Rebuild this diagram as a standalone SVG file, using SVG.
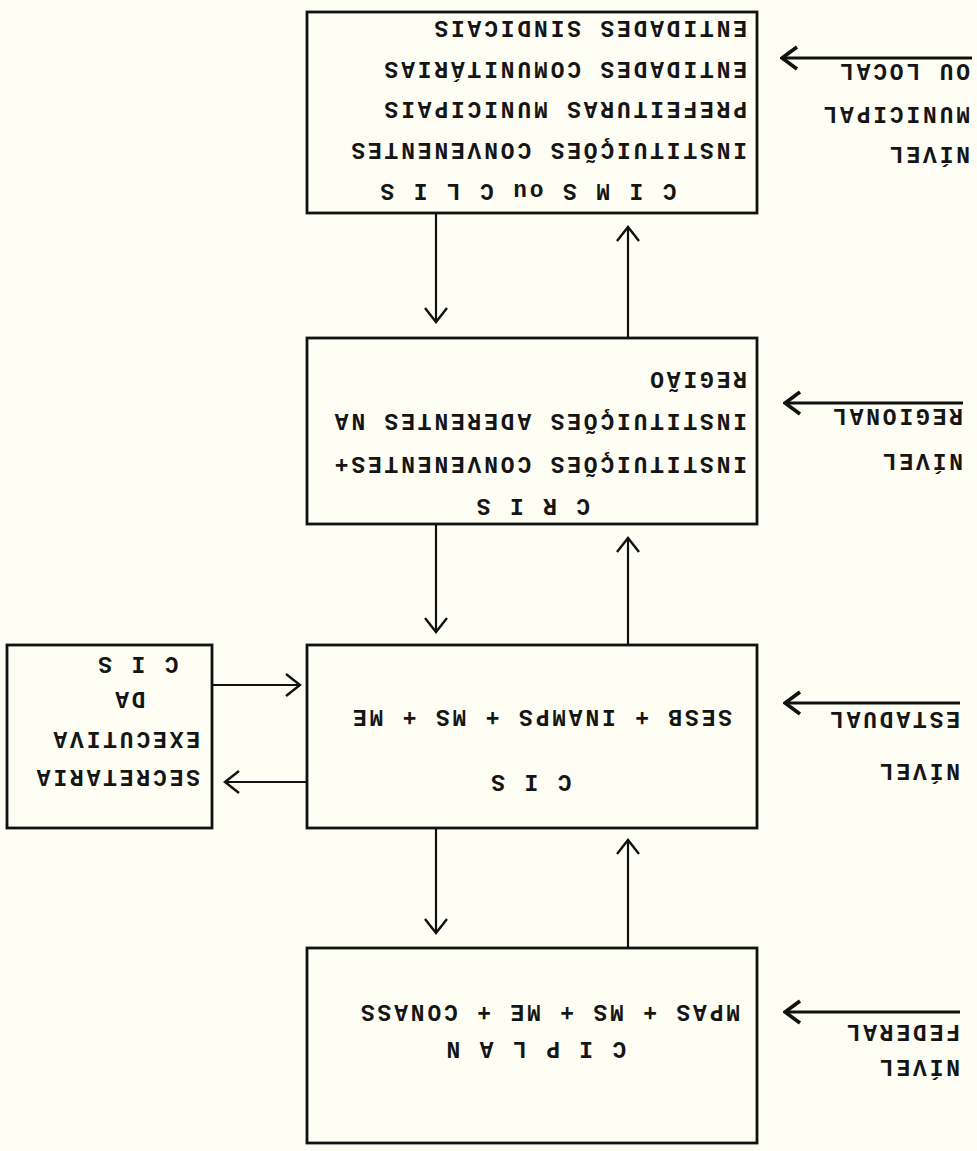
<svg xmlns="http://www.w3.org/2000/svg" width="977" height="1151" viewBox="0 0 977 1151">
<style>
.box{fill:none;stroke:#111;stroke-width:2.8}
.t{font-family:"Liberation Mono","DejaVu Sans Mono",monospace;font-weight:bold;font-size:23px;letter-spacing:2.8px;fill:#151515}
.c{text-anchor:middle}
.ln{fill:none;stroke:#111;stroke-width:2.2}
.lv{fill:none;stroke:#111;stroke-width:2.8}
</style>
<defs>
<marker id="ah" viewBox="0 0 18 24" refX="16" refY="12" markerWidth="18" markerHeight="24" markerUnits="userSpaceOnUse" orient="auto">
<path d="M2,1 L16,12 L2,23" fill="none" stroke="#111" stroke-width="2.4"/>
</marker>
<marker id="ahl" viewBox="0 0 20 26" refX="18" refY="13" markerWidth="20" markerHeight="26" markerUnits="userSpaceOnUse" orient="auto">
<path d="M3,2 L18,13 L3,24" fill="none" stroke="#111" stroke-width="3.6"/>
</marker>
</defs>
<rect width="977" height="1151" fill="#fefef4"/>
<g transform="rotate(180 488.5 575.5)">
<g id="connectors">
<line class="ln" x1="541" y1="938" x2="541" y2="829" marker-end="url(#ah)"/>
<line class="ln" x1="349" y1="813" x2="349" y2="924" marker-end="url(#ah)"/>
<line class="ln" x1="541" y1="627" x2="541" y2="519" marker-end="url(#ah)"/>
<line class="ln" x1="349" y1="506" x2="349" y2="613" marker-end="url(#ah)"/>
<line class="ln" x1="541" y1="323" x2="541" y2="218" marker-end="url(#ah)"/>
<line class="ln" x1="349" y1="203" x2="349" y2="311" marker-end="url(#ah)"/>
<line class="ln" x1="765" y1="466" x2="677" y2="466" marker-end="url(#ah)"/>
<line class="ln" x1="670" y1="369" x2="752" y2="369" marker-end="url(#ah)"/>
<line class="lv" x1="5" y1="1093" x2="195" y2="1093" marker-end="url(#ahl)"/>
<line class="lv" x1="14" y1="748" x2="192" y2="748" marker-end="url(#ahl)"/>
<line class="lv" x1="17" y1="448" x2="192" y2="448" marker-end="url(#ahl)"/>
<line class="lv" x1="17" y1="139" x2="192" y2="139" marker-end="url(#ahl)"/>
</g>
<g id="nivel-federal">
<text class="t" x="17" y="91">NÍVEL</text>
<text class="t" x="17" y="126">FEDERAL</text>
</g>
<g id="nivel-estadual">
<text class="t" x="17" y="387">NÍVEL</text>
<text class="t" x="17" y="439">ESTADUAL</text>
</g>
<g id="nivel-regional">
<text class="t" x="14" y="697">NÍVEL</text>
<text class="t" x="14" y="742">REGIONAL</text>
</g>
<g id="nivel-municipal">
<text class="t" x="7" y="1004">NÍVEL</text>
<text class="t" x="7" y="1044">MUNICIPAL</text>
<text class="t" x="7" y="1087">OU LOCAL</text>
</g>
<g id="ciplan">
<rect class="box" x="220" y="8" width="450" height="195"/>
<text class="t c" x="442" y="109">C I P L A N</text>
<text class="t" x="237" y="146">MPAS + MS + ME + CONASS</text>
</g>
<g id="cis">
<rect class="box" x="220" y="323" width="450" height="183"/>
<text class="t c" x="447" y="376">C I S</text>
<text class="t" x="245" y="441">SESB + INAMPS + MS + ME</text>
</g>
<g id="secretaria">
<rect class="box" x="765" y="323" width="205" height="183"/>
<text class="t" x="777" y="381">SECRETARIA</text>
<text class="t" x="777" y="419">EXECUTIVA</text>
<text class="t c" x="848" y="459">DA</text>
<text class="t c" x="840" y="494">C I S</text>
</g>
<g id="cris">
<rect class="box" x="220" y="627" width="450" height="186"/>
<text class="t c" x="445" y="652">C R I S</text>
<text class="t" x="230" y="694">INSTITUIÇÕES CONVENENTES+</text>
<text class="t" x="230" y="737">INSTITUIÇÕES ADERENTES NA</text>
<text class="t" x="230" y="779">REGIÃO</text>
</g>
<g id="cims">
<rect class="box" x="220" y="938" width="450" height="201"/>
<text class="t c" x="450" y="967">C I M S ou C L I S</text>
<text class="t" x="230" y="1008">INSTITUIÇÕES CONVENENTES</text>
<text class="t" x="230" y="1049">PREFEITURAS MUNICIPAIS</text>
<text class="t" x="230" y="1089">ENTIDADES COMUNITÁRIAS</text>
<text class="t" x="230" y="1130">ENTIDADES  SINDICAIS</text>
</g>
</g>
</svg>
